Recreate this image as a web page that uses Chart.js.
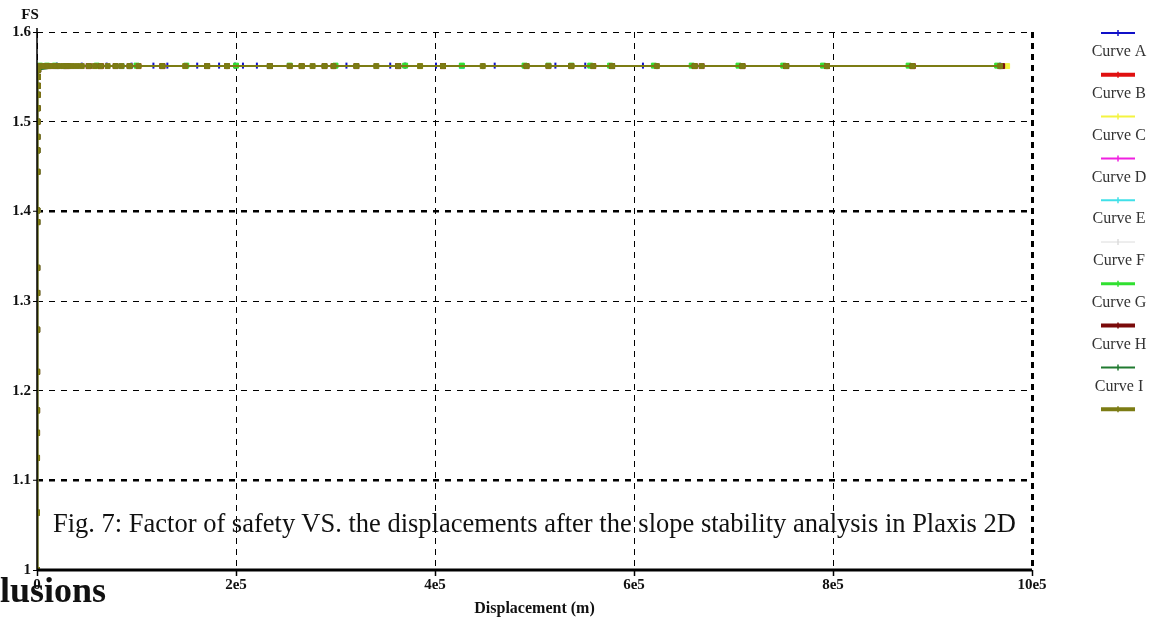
<!DOCTYPE html>
<html>
<head>
<meta charset="utf-8">
<script src="https://cdn.jsdelivr.net/npm/chart.js@4.4.1/dist/chart.umd.min.js"></script>
<style>
  body { margin: 0; background: #fff; }
  #wrap { position: relative; width: 1164px; height: 621px; overflow: hidden; }
  #caption { position: absolute; left: 53px; top: 508px; font: 26.5px "Liberation Serif", serif; color: #111; white-space: nowrap; }
  #heading { position: absolute; left: 0px; top: 569px; font: bold 36px "Liberation Serif", serif; color: #111; white-space: nowrap; }
</style>
</head>
<body>
<div id="wrap">
  <canvas id="fsChart" width="1164" height="621"></canvas>
  <div id="caption">Fig. 7: Factor of safety VS. the displacements after the slope stability analysis in Plaxis 2D</div>
  <div id="heading">lusions</div>
</div>
<script>
const ctx1 = document.getElementById('fsChart');

// loading phase (same for every curve): displacement in m, FS
const rampDisp = [0, 20, 45, 70, 95, 130, 170, 220, 260, 330, 360, 430, 480, 520, 600, 700, 800, 900, 1000, 1200];
const rampFS = [1.0, 1.064, 1.125, 1.153, 1.178, 1.221, 1.268, 1.309, 1.337, 1.388, 1.401, 1.444, 1.468, 1.483, 1.50, 1.515, 1.53, 1.54, 1.55, 1.558];

// plateau phase: displacement in thousands of m
const curveNames = ['Curve A', 'Curve B', 'Curve C', 'Curve D', 'Curve E', 'Curve F', 'Curve G', 'Curve H', 'Curve I', ''];
const plateauFS = [1.5625, 1.562, 1.562, 1.562, 1.562, 1.562, 1.5625, 1.562, 1.562, 1.562];
const dispA = [20, 45, 70, 95, 117, 131, 161, 183, 199, 207, 221, 311, 355, 370, 401, 460, 521, 551, 609, 968];
const dispB = [8, 30, 64, 102, 191, 298, 408, 559, 709, 880, 968];
const dispC = [12, 60, 149, 266, 385, 537, 661, 794, 975];
const dispD = [15, 52, 126, 254, 363, 514, 668, 880, 968];
const dispE = [20, 85, 234, 427, 578, 753, 968];
const dispF = [35, 171, 341, 492, 709, 968];
const dispG = [3, 10, 18, 60, 100, 150, 200, 254, 300, 370, 427, 490, 514, 537, 556, 576, 620, 658, 705, 750, 790, 876, 965];
const dispH = [10, 20, 30, 52, 64, 79, 93, 126, 171, 234, 266, 289, 321, 363, 408, 492, 537, 578, 661, 709, 753, 794, 880, 970];
const dispI = [27, 93, 191, 298, 448, 623, 794, 968];
const dispJ = [3, 7, 11, 15, 19, 23, 27, 31, 35, 40, 45, 52, 58, 64, 71, 79, 85, 93, 102, 126, 149, 171, 191, 234, 254, 266, 277, 289, 298, 321, 341, 363, 385, 408, 448, 492, 514, 537, 559, 578, 623, 661, 668, 709, 753, 794, 880, 968];

const yTickLabels = ['1', '1.1', '1.2', '1.3', '1.4', '1.5', '1.6'];
const xTickLabels = ['0', '2e5', '4e5', '6e5', '8e5', '10e5'];

const plateaus = [dispA, dispB, dispC, dispD, dispE, dispF, dispG, dispH, dispI, dispJ];
const colors = ['#1010c8', '#e01010', '#f4f440', '#f020e0', '#40e0e8', '#dcdcdc', '#30e030', '#7a0a0a', '#207a30', '#7c7c14'];
const swatchWidths = [2, 4, 2, 2, 2, 1, 3, 4, 2, 4];
const markerStyles = ['line', 'rect', 'rect', 'rect', 'rect', 'rect', 'rect', 'rect', 'line', 'rect'];

function buildCurve(i) {
    const ramp = rampDisp.map((d, k) => ({x: d, y: rampFS[k]}));
    const flat = plateaus[i].map(d => ({x: d * 1000, y: plateauFS[i]}));
    return ramp.concat(flat);
}

const datasets = curveNames.map(function(name, i){
    return {
        label: name,
        data: buildCurve(i),
        borderColor: colors[i],
        backgroundColor: colors[i],
        borderWidth: i == 9 ? 2 : 1.5,
        pointStyle: markerStyles[i],
        rotation: markerStyles[i] == 'line' ? 90 : 0,
        pointRadius: markerStyles[i] == 'line' ? 3 : 3.5,
        pointBorderWidth: markerStyles[i] == 'line' ? 2 : 1,
        order: 9 - i,
        swatchWidth: swatchWidths[i]
    };
});

// legend on the right, "FS" label and solid axis lines
const sideLegend = {
    id: 'sideLegend',
    afterDraw(chart) {
        const c = chart.ctx;
        const area = chart.chartArea;
        c.save();
        c.setLineDash([]);
        c.strokeStyle = '#000';
        c.lineWidth = 1.5;
        c.beginPath();
        c.moveTo(area.left, area.top - 4);
        c.lineTo(area.left, area.bottom);
        c.stroke();
        c.lineWidth = 3;
        c.beginPath();
        c.moveTo(area.left, area.bottom);
        c.lineTo(area.right, area.bottom);
        c.stroke();

        chart.data.datasets.forEach(function(ds, i){
            const y = 33 + i * 41.8;
            c.strokeStyle = ds.borderColor;
            c.lineWidth = ds.swatchWidth;
            c.beginPath();
            c.moveTo(1101, y);
            c.lineTo(1135, y);
            c.stroke();
            c.lineWidth = 1.5;
            c.beginPath();
            c.moveTo(1118, y - 3);
            c.lineTo(1118, y + 3);
            c.stroke();
            if (ds.label) {
                c.fillStyle = '#333';
                c.font = '16px "Liberation Serif", serif';
                c.textAlign = 'center';
                c.textBaseline = 'middle';
                c.fillText(ds.label, 1119, y + 19);
            }
        });
        c.fillStyle = '#111';
        c.font = 'bold 15px "Liberation Serif", serif';
        c.textAlign = 'center';
        c.textBaseline = 'middle';
        c.fillText('FS', 30, 15);
        c.restore();
    }
};

new Chart(ctx1, {
    type: 'line',
    data: { datasets: datasets },
    plugins: [sideLegend],
    options: {
        responsive: false,
        animation: false,
        layout: { padding: { top: 32, right: 132, left: 0, bottom: 0 } },
        plugins: {
            legend: { display: false },
            tooltip: { enabled: false }
        },
        scales: {
            x: {
                type: 'linear',
                min: 0,
                max: 1000000,
                afterFit: function(scale){ scale.height = 51; },
                ticks: {
                    stepSize: 200000,
                    padding: 0,
                    color: '#111',
                    font: { family: '"Liberation Serif", serif', size: 15, weight: 'bold' },
                    callback: function(v, idx){ return xTickLabels[idx]; }
                },
                grid: {
                    color: '#000',
                    lineWidth: ctx => ctx.tick && ctx.tick.value == 1000000 ? 3 : 1,
                    tickLength: 6,
                    tickBorderDash: [],
                    tickWidth: 1.5
                },
                border: { display: false, dash: [6, 5] },
                title: {
                    display: true,
                    text: 'Displacement (m)',
                    color: '#111',
                    padding: { top: 0, bottom: 3 },
                    font: { family: '"Liberation Serif", serif', size: 16, weight: 'bold' }
                }
            },
            y: {
                min: 1,
                max: 1.6,
                afterFit: function(scale){ scale.width = 37; },
                ticks: {
                    stepSize: 0.1,
                    padding: 2,
                    color: '#111',
                    font: { family: '"Liberation Serif", serif', size: 15, weight: 'bold' },
                    callback: function(v, idx){ return yTickLabels[idx]; }
                },
                grid: {
                    color: '#000',
                    lineWidth: ctx => ctx.tick && (Math.abs(ctx.tick.value - 1.4) < 0.001 || Math.abs(ctx.tick.value - 1.1) < 0.001) ? 2.5 : 1,
                    tickLength: 4,
                    tickBorderDash: [],
                    tickWidth: 1
                },
                border: { display: false, dash: [6, 6] }
            }
        }
    }
});
</script>
</body>
</html>
